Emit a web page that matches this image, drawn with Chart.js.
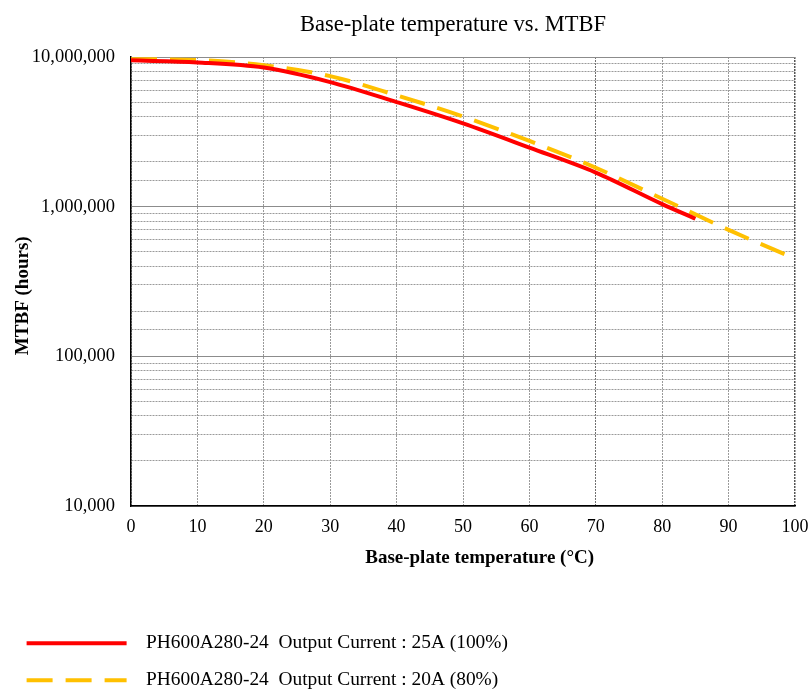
<!DOCTYPE html>
<html>
<head>
<meta charset="utf-8">
<script src="https://cdn.jsdelivr.net/npm/chart.js@4"></script>
<style>
  html, body { margin: 0; padding: 0; background: #fff; overflow: hidden; }
  #wrap { width: 809px; height: 700px; position: relative; }
</style>
</head>
<body>
<div id="wrap"><canvas id="mtbf"></canvas></div>
<script>
const temps100 = [0, 10, 20, 30, 40, 50, 60, 70, 80, 85];
const mtbf100 = [9500000, 9200000, 8500000, 6800000, 5000000, 3600000, 2480000, 1690000, 1040000, 830000];
const temps80 = [0, 10, 20, 30, 40, 50, 60, 70, 80, 90, 100];
const mtbf80 = [9670000, 9550000, 8800000, 7450000, 5550000, 4000000, 2750000, 1820000, 1130000, 700000, 450000];
const decadeLabels = { 10000: '10,000', 100000: '100,000', 1000000: '1,000,000', 10000000: '10,000,000' };
const chartTitle = 'Base-plate temperature vs. MTBF';

const serif = "'Liberation Serif', 'Times New Roman', serif";
const isDecade = (v) => Math.abs(Math.log10(v) - Math.round(Math.log10(v))) < 1e-6;

// chart title sits a bit right of the canvas centre in the original
const titlePlugin = {
  id: 'plateTitle',
  afterDraw(chart) {
    const ctx = chart.ctx;
    ctx.save();
    ctx.font = `22.5px ${serif}`;
    ctx.fillStyle = '#000';
    ctx.textAlign = 'center';
    ctx.textBaseline = 'middle';
    ctx.fillText(chartTitle, 453, 25);
    ctx.restore();
  }
};

const data = {
  datasets: [
    {
      label: 'PH600A280-24  Output Current : 25A (100%)',
      data: temps100.map((t, i) => ({ x: t, y: mtbf100[i] })),
      borderColor: '#FF0000',
      backgroundColor: '#FF0000',
      borderWidth: 4,
      pointRadius: 0,
      tension: 0.4,
      cubicInterpolationMode: 'monotone'
    },
    {
      label: 'PH600A280-24  Output Current : 20A (80%)',
      data: temps80.map((t, i) => ({ x: t, y: mtbf80[i] })),
      borderColor: '#FFC000',
      backgroundColor: '#FFC000',
      borderWidth: 4,
      borderDash: [26, 13],
      pointRadius: 0,
      tension: 0.4,
      cubicInterpolationMode: 'monotone'
    }
  ]
};

const config = {
  type: 'line',
  data: data,
  plugins: [titlePlugin],
  options: {
    responsive: true,
    maintainAspectRatio: false,
    animation: false,
    layout: { padding: { left: 9, right: 14, top: 57, bottom: 0 } },
    plugins: {
      title: { display: false },
      legend: {
        position: 'bottom',
        align: 'start',
        labels: {
          color: '#000',
          font: { family: serif, size: 19.4 },
          usePointStyle: true,
          pointStyle: 'line',
          pointStyleWidth: 100,
          padding: 17.6,
          generateLabels: (chart) => Chart.defaults.plugins.legend.labels.generateLabels(chart)
            .map((item) => {
              const ds = chart.data.datasets[item.datasetIndex];
              return {
                ...item,
                text: '\u00a0\u00a0' + item.text,
                strokeStyle: ds.borderColor,
                lineWidth: 4,
                lineDash: ds.borderDash || [],
                lineDashOffset: 0
              };
            })
        }
      },
      tooltip: { enabled: false }
    },
    scales: {
      x: {
        type: 'linear',
        min: 0,
        max: 100,
        ticks: {
          stepSize: 10,
          color: '#000',
          padding: 0,
          font: { family: serif, size: 18 }
        },
        grid: {
          color: (ctx) => (ctx.tick && ctx.tick.value === 100 ? '#555' : ctx.tick && ctx.tick.value === 70 ? '#707070' : '#9a9a9a'),
          lineWidth: (ctx) => (ctx.tick && ctx.tick.value === 100 ? 1.5 : 1),
          drawTicks: true,
          tickLength: 10,
          tickColor: 'rgba(0,0,0,0)'
        },
        border: { color: '#000', width: 1.5, dash: [2, 1] },
        title: {
          display: true,
          text: '\u00a0\u00a0\u00a0\u00a0\u00a0\u00a0\u00a0Base-plate temperature (°C)',
          color: '#000',
          font: { family: serif, size: 19, weight: 'bold' },
          padding: { top: 0, bottom: 46.6 }
        },
        afterFit: (scale) => { scale.height = 110; }
      },
      y: {
        type: 'logarithmic',
        min: 10000,
        max: 10000000,
        ticks: {
          color: '#000',
          padding: 16,
          autoSkip: false,
          font: { family: serif, size: 18.5 },
          callback: (value) => decadeLabels[value] || ''
        },
        grid: {
          color: (ctx) => (ctx.tick && isDecade(ctx.tick.value) ? '#8c8c8c' : '#9a9a9a'),
          lineWidth: 1,
          drawTicks: false
        },
        border: {
          color: '#000',
          width: 1.5,
          dash: (ctx) => (ctx.tick && isDecade(ctx.tick.value) ? [] : [2, 1])
        },
        title: {
          display: true,
          text: 'MTBF (hours)\u00a0\u00a0\u00a0\u00a0\u00a0\u00a0',
          color: '#000',
          font: { family: serif, size: 19, weight: 'bold' },
          padding: { top: 2.6, bottom: 0 }
        },
        afterFit: (scale) => { scale.width = 122; }
      }
    }
  }
};

let mtbfChart = new Chart(document.getElementById('mtbf'), config);
</script>
</body>
</html>
